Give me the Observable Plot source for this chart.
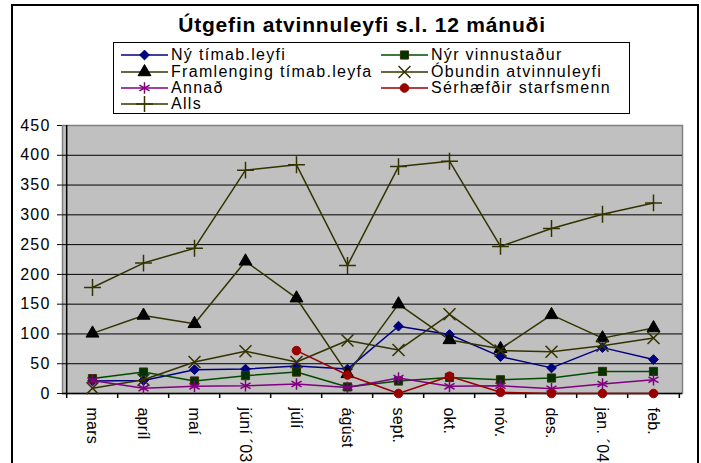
<!DOCTYPE html>
<html>
<head>
<meta charset="utf-8">
<script src="https://cdn.jsdelivr.net/npm/d3@7"></script>
<script src="https://cdn.jsdelivr.net/npm/@observablehq/plot@0.6"></script>
<style>
  html, body { margin: 0; padding: 0; background: #fff; }
  #wrap { position: relative; width: 701px; height: 463px; overflow: hidden; background: #fff;
          font-family: "Liberation Sans", Arial, sans-serif; color: #000; }
  #border { position: absolute; left: 11px; top: 4px; width: 688px; height: 480px; border: 2px solid #000; box-sizing: border-box; }
  #chart { position: absolute; left: 0; top: 0; }
  #chart svg text { letter-spacing: 1.2px; }
  #chart svg [aria-label^="x-axis"] text { letter-spacing: 0.2px; }
  #title { position: absolute; top: 14px; left: 362px; transform: translateX(-50%); white-space: nowrap;
           font-weight: bold; font-size: 21px; line-height: 21px; letter-spacing: 0.8px; }
  #legend { position: absolute; left: 113px; top: 42px; width: 517px; height: 72px; border: 1px solid #000;
            box-sizing: border-box; background: #fff; }
  .entry { position: absolute; height: 16px; display: flex; align-items: center; white-space: nowrap;
           font-size: 16px; letter-spacing: 1.3px; }
  .entry svg { display: block; margin-right: 2px; }
</style>
</head>
<body>
<div id="wrap">
  <div id="border"></div>
  <div id="chart"></div>
  <div id="title">Útgefin atvinnuleyfi s.l. 12 mánuði</div>
  <div id="legend"></div>
</div>
<script>
// ---- data ----
const months = ["mars", "apríl", "maí", "júní ´03", "júlí", "ágúst", "sept.", "okt.", "nóv.", "des.", "jan. ´04", "feb."];
const nyTimab      = [21, 22, 40, 41, 46, 41, 113, 99, 62, 43, 77, 57];
const nyrVinnust   = [25, 36, 21, 30, 36, 11, 21, 27, 23, 26, 37, 37];
const framlenging  = [101, 131, 117, 222, 160, 33, 150, 90, 75, 132, 93, 110];
const obundin      = [9, 23, 53, 71, 53, 89, 73, 133, 72, 70, 80, 93];
const annad        = [22, 9, 12, 13, 16, 10, 26, 12, 13, 8, 16, 23];
const serhaefdir   = [null, null, null, null, 72, 31, 0, 29, 2, 0, 0, 0];
const alls         = [178, 219, 244, 375, 384, 215, 381, 390, 247, 277, 301, 320];
const seriesNames  = ["Ný tímab.leyfi", "Nýr vinnustaður", "Framlenging tímab.leyfa", "Óbundin atvinnuleyfi", "Annað", "Sérhæfðir starfsmenn", "Alls"];
const yTicks = [0, 50, 100, 150, 200, 250, 300, 350, 400, 450];

// styles per series
const styles = [
  {values: nyTimab,     line: "#000080", symbol: "diamond2", fill: "#000080", stroke: "#000080", r: 4.4, sw: 1},
  {values: nyrVinnust,  line: "#004d00", symbol: "square",   fill: "#003300", stroke: "#333300", r: 4.6, sw: 1},
  {values: framlenging, line: "#333300", symbol: "triangle", fill: "#000000", stroke: "#000000", r: 4.8, sw: 1},
  {values: obundin,     line: "#333300", symbol: "times",    fill: "none",    stroke: "#333300", r: 5.5, sw: 1.5},
  {values: annad,       line: "#800080", symbol: "asterisk", fill: "none",    stroke: "#800080", r: 5.5, sw: 1.5},
  {values: serhaefdir,  line: "#990000", symbol: "circle",   fill: "#990000", stroke: "#990000", r: 4.3, sw: 1},
  {values: alls,        line: "#333300", symbol: "plus",     fill: "none",    stroke: "#333300", r: 5.5, sw: 1.5}
];

const rows = [];
styles.forEach((s, si) => s.values.forEach((v, i) => {
  if (v != null) rows.push({series: seriesNames[si], month: months[i], value: v});
}));

const W = 701, H = 463, mL = 62, mR = 19, mT = 125, mB = 70;
const step = (W - mL - mR) / months.length;
const unitsPerPx = 450 / (H - mT - mB);
const tickLen = 5 * unitsPerPx;

const marks = [
  Plot.frame({fill: "#c0c0c0", stroke: "#808080", strokeWidth: 1.5}),
  Plot.ruleY(yTicks.filter(v => v > 0 && v < 450), {stroke: "#000", strokeWidth: 1}),
  Plot.ruleY([0], {stroke: "#000", strokeWidth: 1.5}),
  Plot.ruleX(months, {x: d => d, dx: -step / 2, y1: 0, y2: -tickLen, stroke: "#000", strokeWidth: 1.5}),
  Plot.ruleX([months[months.length - 1]], {x: d => d, dx: step / 2, y1: 0, y2: -tickLen, stroke: "#000", strokeWidth: 1.5}),
  Plot.ruleX([months[0]], {x: d => d, dx: -step / 2, y1: 0, y2: 450, stroke: "#000", strokeWidth: 1.5})
];
styles.forEach((s, si) => {
  const data = rows.filter(d => d.series === seriesNames[si]);
  marks.push(Plot.line(data, {x: "month", y: "value", stroke: s.line, strokeWidth: 1.5}));
  marks.push(Plot.dot(data, {x: "month", y: "value", symbol: s.symbol, r: s.r, fill: s.fill, stroke: s.stroke, strokeWidth: s.sw}));
});

const chart = Plot.plot({
  width: W, height: H, marginLeft: mL, marginRight: mR, marginTop: mT, marginBottom: mB,
  style: {background: "transparent", fontFamily: "'Liberation Sans', Arial, sans-serif", fontSize: "16px", color: "#000", overflow: "visible"},
  x: {type: "point", domain: months, padding: 0.5, tickSize: 0, tickPadding: 14, tickRotate: 90, label: null},
  y: {domain: [0, 450], ticks: yTicks, tickSize: 5, tickPadding: 7, label: null},
  marks
});
document.getElementById("chart").appendChild(chart);

// ---- legend ----
const legend = d3.select("#legend");
const symMap = {diamond2: d3.symbolDiamond2, square: d3.symbolSquare, triangle: d3.symbolTriangle,
                times: d3.symbolTimes, asterisk: d3.symbolAsterisk, circle: d3.symbolCircle, plus: d3.symbolPlus};
const colX = [121 - 113, 381 - 113];
const rowY = [55 - 42, 71.5 - 42, 88 - 42, 104 - 42];
styles.forEach((s, si) => {
  const col = si === 6 ? 0 : si % 2;
  const row = si === 6 ? 3 : Math.floor(si / 2);
  const e = legend.append("div").attr("class", "entry")
    .style("left", (colX[col] - 1) + "px").style("top", (rowY[row] - 8 - 1) + "px");
  const svg = e.append("svg").attr("width", 48).attr("height", 16);
  svg.append("line").attr("x1", 0).attr("x2", 47).attr("y1", 8).attr("y2", 8)
    .attr("stroke", s.line).attr("stroke-width", 1.5);
  svg.append("path").attr("transform", "translate(23.5,8)")
    .attr("d", d3.symbol(symMap[s.symbol], s.r * s.r * Math.PI)())
    .attr("fill", s.fill).attr("stroke", s.stroke).attr("stroke-width", s.sw);
  e.append("span").text(seriesNames[si]);
});
</script>
</body>
</html>
